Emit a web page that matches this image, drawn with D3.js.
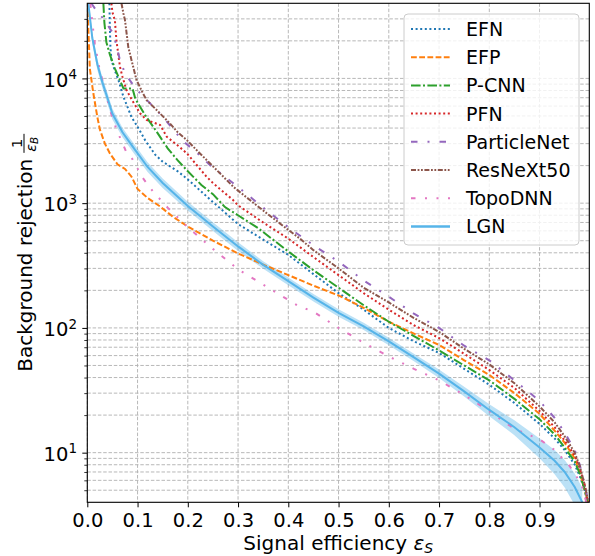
<!DOCTYPE html>
<html><head><meta charset="utf-8">
<script src="https://cdn.jsdelivr.net/npm/d3@7"></script>
<style>body{margin:0;background:#fff;} svg{display:block;font-family:"DejaVu Sans",sans-serif;}</style>
</head><body><svg id="c" width="595" height="556"></svg>
<script>
// ---------------- data ----------------
const xTickValues = [0, 0.1, 0.2, 0.3, 0.4, 0.5, 0.6, 0.7, 0.8, 0.9];
const xTickLabels = ["0.0","0.1","0.2","0.3","0.4","0.5","0.6","0.7","0.8","0.9"];
const yMajorValues = [10, 100, 1000, 10000];
const yMajorExponents = ["1","2","3","4"];
const yMinorValues = [5,6,7,8,9,20,30,40,50,60,70,80,90,200,300,400,500,600,700,800,900,2000,3000,4000,5000,6000,7000,8000,9000,20000,30000];

const seriesNames = ["EFN","EFP","P-CNN","PFN","ParticleNet","ResNeXt50","TopoDNN","LGN"];

const efnX = [0.044,0.045,0.046,0.048,0.055,0.062,0.072,0.08,0.088,0.1,0.115,0.135,0.15,0.18,0.2,0.25,0.3,0.35,0.4,0.45,0.5,0.55,0.6,0.65,0.7,0.75,0.8,0.85,0.9,0.93,0.95,0.97,0.98,0.99,0.995];
const efnY = [40000,25000,18000,14000,11500,9700,7100,5900,4900,4100,3200,2450,2150,1800,1550,1020,680,510,385,270,190,140,100,78,63,47,35,25,17,13,10.5,8,6.5,5,4];

const efpX = [0.0,0.003,0.005,0.012,0.02,0.025,0.035,0.045,0.06,0.075,0.088,0.1,0.12,0.145,0.17,0.2,0.25,0.3,0.35,0.4,0.45,0.5,0.55,0.6,0.65,0.7,0.75,0.8,0.85,0.9,0.93,0.95,0.97,0.98,0.99,0.997];
const efpY = [40000,20000,12000,7600,4900,3900,3000,2500,2050,1880,1630,1300,1100,940,780,650,500,395,322,265,218,182,145,112,90,73,55,42,30,20.5,15,12,9,7,5,4];

const pcnnX = [0.032,0.034,0.038,0.045,0.055,0.062,0.072,0.09,0.095,0.1,0.115,0.138,0.16,0.18,0.2,0.227,0.25,0.274,0.3,0.34,0.4,0.45,0.5,0.55,0.6,0.65,0.7,0.75,0.8,0.85,0.9,0.93,0.95,0.97,0.98,0.99,0.995];
const pcnnY = [40000,28000,19500,15500,12000,10300,8300,8300,7000,6400,5080,3740,2750,2200,1800,1400,1180,930,800,630,410,290,210,152,112,86,66,50,38,27,18.5,14,11,8.5,6.8,5,4];

const pfnX = [0.048,0.05,0.055,0.058,0.065,0.07,0.078,0.09,0.105,0.118,0.145,0.158,0.18,0.198,0.237,0.25,0.29,0.3,0.35,0.4,0.45,0.5,0.55,0.6,0.65,0.7,0.75,0.8,0.85,0.9,0.93,0.95,0.97,0.98,0.99,0.996];
const pfnY = [40000,34000,29000,20000,12400,10300,8060,6600,5250,4640,4230,3410,2900,2510,1635,1450,1060,960,700,520,370,265,190,140,105,83,62,46,33,21.6,16,12.5,9.5,7.5,5.5,4];

const pnetX = [0.008,0.02,0.035,0.045,0.052,0.06,0.065,0.075,0.09,0.105,0.12,0.135,0.161,0.188,0.22,0.244,0.3,0.35,0.4,0.45,0.5,0.55,0.6,0.65,0.7,0.75,0.8,0.85,0.9,0.93,0.95,0.97,0.98,0.99,0.997];
const pnetY = [40000,34000,29300,25000,22900,17000,14000,11000,9000,7600,6600,5750,4370,3210,2500,2020,1350,920,640,460,340,240,178,130,100,72,55,38,26,19,14.5,10.5,8,5.5,4];

const resX = [0.068,0.072,0.075,0.0815,0.088,0.098,0.11,0.118,0.138,0.164,0.18,0.198,0.22,0.244,0.29,0.3,0.357,0.4,0.423,0.45,0.5,0.55,0.6,0.65,0.7,0.75,0.8,0.85,0.9,0.93,0.95,0.97,0.98,0.99,0.997];
const resY = [40000,33000,29300,17900,14000,9700,7700,6700,5580,4370,3700,3210,2600,2090,1360,1260,830,610,520,420,300,210,160,120,93,68,51,36,23.5,17.5,13.5,10,7.8,5.5,4];

const topoX = [0.006,0.01,0.015,0.025,0.032,0.045,0.058,0.078,0.09,0.11,0.13,0.16,0.2,0.25,0.3,0.36,0.42,0.45,0.5,0.55,0.6,0.65,0.7,0.75,0.8,0.85,0.9,0.93,0.96,0.975,0.985,0.993];
const topoY = [40000,28000,19000,11500,9100,5600,3900,2550,2250,1600,1250,920,640,430,295,210,150,135,100,76,59,47,38,29,21.5,15.5,12.8,10.5,7.8,6.3,5.3,4];

const lgnX = [0.002,0.01,0.02,0.03,0.04,0.05,0.07,0.09,0.12,0.15,0.2,0.25,0.3,0.35,0.4,0.45,0.5,0.55,0.6,0.65,0.7,0.75,0.8,0.85,0.9,0.93,0.95,0.97,0.985];
const lgnY = [40000,21000,13000,9300,7000,5200,3700,2850,1950,1450,950,650,450,320,237,175,132,103,78,58,43,31,22,16,11,8.6,7,5.3,4];
const lgnLo = [36000,18900,11700,8370,6300,4680,3370,2590,1775,1320,874,598,414,298,220,163,123,96,72.5,54,39.6,28.2,19.6,13.8,9.0,6.7,5.25,3.8,2.8];
const lgnHi = [44000,23100,14300,10230,7700,5720,4030,3110,2125,1580,1026,702,486,342,254,187,141,110,83.5,62,46.4,33.8,24.4,18.2,13.0,10.5,8.75,6.8,5.2];

// ---------------- chart ----------------
const svg = d3.select("#c");
const L = 87.3, R = 589.3, T = 3.3, B = 502.3;
const x = d3.scaleLinear().domain([0, 0.999]).range([L, R]);
const y = d3.scaleLog().domain([4, 40000]).range([B, T]);

const colors = ["#1f77b4","#ff7f0e","#2ca02c","#d62728","#9467bd","#8c564b","#e377c2","#56b4e9"];
const dashes = ["2,2.6","5.8,2.4","9.6,2.4,2,2.4","2,2.6","6.5,10,2,10","5,1.6,1.8,1.6,1.8,1.6","4.5,9.5,2,9.5,2,9.5",null];
const xs = [efnX, efpX, pcnnX, pfnX, pnetX, resX, topoX, lgnX];
const ys = [efnY, efpY, pcnnY, pfnY, pnetY, resY, topoY, lgnY];
const series = seriesNames.map((n,i)=>({name:n,color:colors[i],dash:dashes[i],pts:xs[i].map((v,j)=>[v, ys[i][j]])}));

svg.append("defs").append("clipPath").attr("id","clip")
  .append("rect").attr("x",L).attr("y",T).attr("width",R-L).attr("height",B-T);

// grid
const grid = svg.append("g").attr("stroke","#b0b0b0").attr("stroke-width",0.9).attr("stroke-dasharray","3.5,1.8");
grid.selectAll("line.gx").data(xTickValues).join("line")
  .attr("x1",d=>x(d)).attr("x2",d=>x(d)).attr("y1",T).attr("y2",B);
grid.selectAll("line.gy").data(yMajorValues.concat(yMinorValues)).join("line")
  .attr("x1",L).attr("x2",R).attr("y1",d=>y(d)).attr("y2",d=>y(d));

// LGN band
const plot = svg.append("g").attr("clip-path","url(#clip)");
const bandData = lgnX.map((v,i)=>({x:v, lo:lgnLo[i], hi:lgnHi[i]}));
plot.append("path").datum(bandData)
  .attr("d", d3.area().x(d=>x(d.x)).y0(d=>y(d.lo)).y1(d=>y(d.hi)))
  .attr("fill","#56b4e9").attr("fill-opacity",0.4);

const line = d3.line().x(d=>x(d[0])).y(d=>y(d[1]));
series.forEach(s=>{
  plot.append("path").datum(s.pts).attr("d",line)
    .attr("fill","none").attr("stroke",s.color)
    .attr("stroke-width", 2)
    .attr("stroke-dasharray", s.dash);
});

// axes
const fs = 19.5;
const gx = svg.append("g").attr("transform",`translate(0,${B})`)
  .call(d3.axisBottom(x).tickValues(xTickValues).tickSize(5).tickFormat((d,i)=>xTickLabels[i]));
gx.select(".domain").remove();
gx.selectAll("text").attr("font-size",fs).attr("font-family","DejaVu Sans").attr("fill","#000").attr("dy",null).attr("y",24.3);
gx.selectAll("line").attr("stroke","#000").attr("stroke-width",1);

const gy = svg.append("g").attr("transform",`translate(${L},0)`)
  .call(d3.axisLeft(y).tickValues(yMajorValues).tickSize(5).tickFormat(""));
gy.select(".domain").remove();
gy.selectAll("line").attr("stroke","#000").attr("stroke-width",1);
const gym = svg.append("g").attr("transform",`translate(${L},0)`)
  .call(d3.axisLeft(y).tickValues(yMinorValues).tickSize(3).tickFormat(""));
gym.select(".domain").remove();
gym.selectAll("line").attr("stroke","#000").attr("stroke-width",0.8);

yMajorValues.forEach((v,i)=>{
  const t = svg.append("text").attr("x",77).attr("y",y(v)+8.2).attr("text-anchor","end")
    .attr("font-size",fs).attr("fill","#000");
  t.append("tspan").text("10");
  t.append("tspan").attr("font-size",13.5).attr("dy",-7.5).text(yMajorExponents[i]);
});

// frame
svg.append("rect").attr("x",L).attr("y",T).attr("width",R-L).attr("height",B-T)
  .attr("fill","none").attr("stroke","#000").attr("stroke-width",1.1);

// x label
const xl = svg.append("text").attr("x",(L+R)/2).attr("y",549.5).attr("text-anchor","middle")
  .attr("font-size",20).attr("fill","#000");
xl.append("tspan").text("Signal efficiency ");
xl.append("tspan").attr("font-style","italic").text("ε");
xl.append("tspan").attr("font-style","italic").attr("font-size",14).attr("dy",3.5).text("S");

// y label (rotated)
const yg = svg.append("g").attr("transform",`translate(32,${(T+B)/2}) rotate(-90)`);
const yt = yg.append("text").attr("font-size",20).attr("fill","#000").text("Background rejection");
const tw = yt.node().getComputedTextLength();
const fracW = 19, gap = 6;
const total = tw + gap + fracW;
yt.attr("x", -total/2).attr("y",0);
const fx = -total/2 + tw + gap;
yg.append("line").attr("x1",fx).attr("x2",fx+fracW).attr("y1",-8).attr("y2",-8).attr("stroke","#000").attr("stroke-width",1);
yg.append("text").attr("x",fx+fracW/2).attr("y",-10.5).attr("text-anchor","middle").attr("font-size",14.5).text("1");
const den = yg.append("text").attr("x",fx+1).attr("y",3.5).attr("font-size",14.5);
den.append("tspan").attr("font-style","italic").text("ε");
den.append("tspan").attr("font-style","italic").attr("font-size",10.5).attr("dy",2.5).text("B");

// legend
const lg = svg.append("g");
lg.append("rect").attr("x",404).attr("y",14).attr("width",175).attr("height",231).attr("rx",4)
  .attr("fill","#fff").attr("fill-opacity",0.8).attr("stroke","#cccccc").attr("stroke-width",1);
series.forEach((s,i)=>{
  const cy = 29 + i*28.2;
  lg.append("line").attr("x1",411).attr("x2",450).attr("y1",cy).attr("y2",cy)
    .attr("stroke",s.color).attr("stroke-width",s.name==="LGN"?2.5:2).attr("stroke-dasharray",s.dash);
  lg.append("text").attr("x",466).attr("y",cy+7).attr("font-size",19).attr("fill","#000").text(s.name);
});
</script></body></html>
